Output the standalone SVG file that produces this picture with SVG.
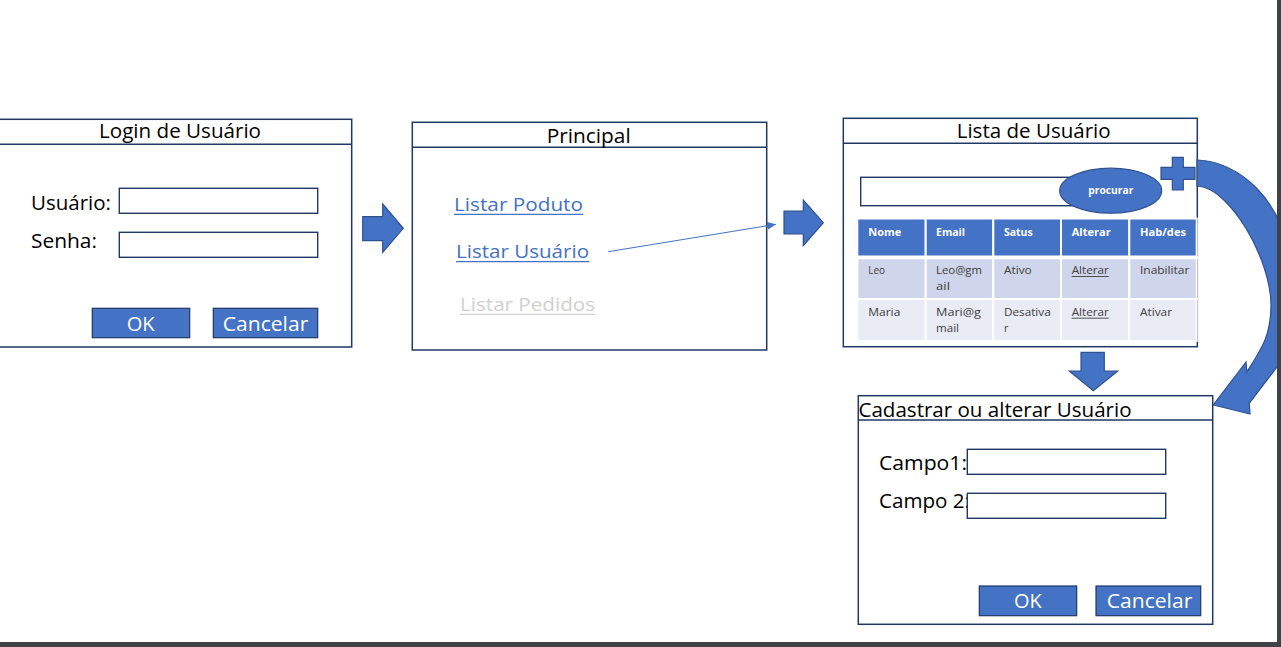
<svg xmlns="http://www.w3.org/2000/svg" width="1281" height="647" viewBox="0 0 1281 647">
<defs>
<style>
.box{fill:#ffffff;stroke:#1f3864;stroke-width:1.5}
.hdr{stroke:#1f3864;stroke-width:1.5}
.inp{fill:#ffffff;stroke:#1f3864;stroke-width:1.4}
.btn{fill:#4472c4;stroke:#1f3864;stroke-width:1.2}
.blk{fill:#4472c4;stroke:#2f528f;stroke-width:1.2;stroke-linejoin:miter}
.t{font-family:"Open Sans","Liberation Sans",sans-serif;fill:#000000;font-size:20px}
.bt{font-family:"Open Sans","Liberation Sans",sans-serif;fill:#ffffff;font-size:20px}
.lnk{font-family:"Open Sans","Liberation Sans",sans-serif;fill:#4472c4;font-size:19px}
.dis{font-family:"Open Sans","Liberation Sans",sans-serif;fill:#d0d0d0;font-size:19px}
.th{font-family:"Open Sans","Liberation Sans",sans-serif;fill:#ffffff;font-size:11px;font-weight:bold}
.td{font-family:"Open Sans","Liberation Sans",sans-serif;fill:#404040;font-size:10.5px}
.ch{fill:#4472c4;stroke:#ffffff;stroke-width:2}
.c1{fill:#cfd5ea;stroke:#ffffff;stroke-width:2}
.c2{fill:#e9ebf5;stroke:#ffffff;stroke-width:2}
</style>
<marker id="ah" markerWidth="10" markerHeight="8" refX="9" refY="4" orient="auto" markerUnits="userSpaceOnUse">
<path d="M0,0 L9,4 L0,8 Z" fill="#4472c4"/>
</marker>
</defs>
<rect x="0" y="0" width="1281" height="647" fill="#ffffff"/>

<g id="login">
<rect class="box" x="-2" y="119.3" width="353.7" height="227.7"/>
<line class="hdr" x1="-2" y1="144.3" x2="351.7" y2="144.3"/>
<text class="t" x="99" y="138" textLength="162" lengthAdjust="spacingAndGlyphs">Login de Usuário</text>
<text class="t" x="31" y="210" textLength="80" lengthAdjust="spacingAndGlyphs">Usuário:</text>
<rect class="inp" x="119.3" y="188.3" width="198.4" height="25"/>
<text class="t" x="31" y="248" textLength="66" lengthAdjust="spacingAndGlyphs">Senha:</text>
<rect class="inp" x="119.3" y="232.3" width="198.4" height="25"/>
<rect class="btn" x="92.3" y="308.3" width="97.4" height="29.4"/>
<text class="bt" x="126.7" y="330.7" textLength="28" lengthAdjust="spacingAndGlyphs">OK</text>
<rect class="btn" x="213.3" y="308.3" width="104.4" height="29.4"/>
<text class="bt" x="222.7" y="330.7" textLength="85.6" lengthAdjust="spacingAndGlyphs">Cancelar</text>
</g>

<g id="principal">
<rect class="box" x="412.3" y="122.3" width="354.4" height="227.7"/>
<line class="hdr" x1="412.3" y1="147.3" x2="766.7" y2="147.3"/>
<text class="t" x="546.7" y="143.3" textLength="84" lengthAdjust="spacingAndGlyphs">Principal</text>
<text class="lnk" x="454" y="211" textLength="129" lengthAdjust="spacingAndGlyphs">Listar Poduto</text>
<line x1="454" y1="214.3" x2="583.3" y2="214.3" stroke="#4472c4" stroke-width="1.3"/>
<text class="lnk" x="456" y="258.3" textLength="133" lengthAdjust="spacingAndGlyphs">Listar Usuário</text>
<line x1="456" y1="261.7" x2="589.3" y2="261.7" stroke="#4472c4" stroke-width="1.3"/>
<text class="dis" x="460" y="311" textLength="135" lengthAdjust="spacingAndGlyphs">Listar Pedidos</text>
<line x1="460" y1="314.3" x2="595" y2="314.3" stroke="#d0d0d0" stroke-width="1.3"/>
</g>

<g id="lista">
<rect class="box" x="843.3" y="118.3" width="354" height="228.4"/>
<line class="hdr" x1="843.3" y1="143.3" x2="1197.3" y2="143.3"/>
<text class="t" x="956.7" y="138.3" textLength="154" lengthAdjust="spacingAndGlyphs">Lista de Usuário</text>
<rect class="inp" x="860.7" y="177.3" width="250" height="28.4"/>
<ellipse class="blk" cx="1110.7" cy="190.7" rx="51" ry="22.5"/>
<text class="th" x="1088.3" y="194" font-size="10" textLength="45" lengthAdjust="spacingAndGlyphs">procurar</text>
<path class="blk" d="M1172.3,157.3 H1183.3 V167.3 H1195 V179.3 H1183.3 V190 H1172.3 V179.3 H1161 V167.3 H1172.3 Z"/>
<g id="tabela">
<rect class="ch" x="857.3" y="218.5" width="68.4" height="38"/>
<rect class="ch" x="925.7" y="218.5" width="67.6" height="38"/>
<rect class="ch" x="993.3" y="218.5" width="67.7" height="38"/>
<rect class="ch" x="1061" y="218.5" width="68.3" height="38"/>
<rect class="ch" x="1129.3" y="218.5" width="67.4" height="38"/>
<rect class="c1" x="857.3" y="258.3" width="68.4" height="40.8"/>
<rect class="c1" x="925.7" y="258.3" width="67.6" height="40.8"/>
<rect class="c1" x="993.3" y="258.3" width="67.7" height="40.8"/>
<rect class="c1" x="1061" y="258.3" width="68.3" height="40.8"/>
<rect class="c1" x="1129.3" y="258.3" width="67.4" height="40.8"/>
<rect class="c2" x="857.3" y="299.1" width="68.4" height="41.9"/>
<rect class="c2" x="925.7" y="299.1" width="67.6" height="41.9"/>
<rect class="c2" x="993.3" y="299.1" width="67.7" height="41.9"/>
<rect class="c2" x="1061" y="299.1" width="68.3" height="41.9"/>
<rect class="c2" x="1129.3" y="299.1" width="67.4" height="41.9"/>
<line x1="856" y1="257.5" x2="1198" y2="257.5" stroke="#ffffff" stroke-width="2.5"/>
<text class="th" x="868.3" y="236" textLength="33" lengthAdjust="spacingAndGlyphs">Nome</text>
<text class="th" x="936" y="236" textLength="29" lengthAdjust="spacingAndGlyphs">Email</text>
<text class="th" x="1004" y="236" textLength="28.7" lengthAdjust="spacingAndGlyphs">Satus</text>
<text class="th" x="1071.7" y="236" textLength="39" lengthAdjust="spacingAndGlyphs">Alterar</text>
<text class="th" x="1140" y="236" textLength="46" lengthAdjust="spacingAndGlyphs">Hab/des</text>
<text class="td" x="868.3" y="274.3" textLength="16.7" lengthAdjust="spacingAndGlyphs">Leo</text>
<text class="td" x="936" y="274.3" textLength="46" lengthAdjust="spacingAndGlyphs">Leo@gm</text>
<text class="td" x="936" y="290" textLength="14" lengthAdjust="spacingAndGlyphs">ail</text>
<text class="td" x="1004" y="274.3" textLength="27.7" lengthAdjust="spacingAndGlyphs">Ativo</text>
<text class="td" x="1071.7" y="274.3" textLength="37" lengthAdjust="spacingAndGlyphs">Alterar</text>
<line x1="1071.7" y1="276.5" x2="1108.7" y2="276.5" stroke="#404040" stroke-width="0.9"/>
<text class="td" x="1140" y="274.3" textLength="49.3" lengthAdjust="spacingAndGlyphs">Inabilitar</text>
<text class="td" x="868.3" y="316" textLength="32" lengthAdjust="spacingAndGlyphs">Maria</text>
<text class="td" x="936" y="316" textLength="45" lengthAdjust="spacingAndGlyphs">Mari@g</text>
<text class="td" x="936" y="331.7" textLength="23" lengthAdjust="spacingAndGlyphs">mail</text>
<text class="td" x="1004" y="316" textLength="46.7" lengthAdjust="spacingAndGlyphs">Desativa</text>
<text class="td" x="1004" y="331.7">r</text>
<text class="td" x="1071.7" y="316" textLength="37" lengthAdjust="spacingAndGlyphs">Alterar</text>
<line x1="1071.7" y1="318.2" x2="1108.7" y2="318.2" stroke="#404040" stroke-width="0.9"/>
<text class="td" x="1140" y="316" textLength="32" lengthAdjust="spacingAndGlyphs">Ativar</text>
</g>
</g>

<g id="cadastrar">
<rect class="box" x="858.3" y="395.7" width="354.4" height="228.6"/>
<line class="hdr" x1="858.3" y1="420" x2="1212.7" y2="420"/>
<text class="t" x="858.5" y="416.7" textLength="273" lengthAdjust="spacingAndGlyphs">Cadastrar ou alterar Usuário</text>
<text class="t" x="879" y="470" textLength="88" lengthAdjust="spacingAndGlyphs">Campo1:</text>
<text class="t" x="879" y="507.7" textLength="91" lengthAdjust="spacingAndGlyphs">Campo 2:</text>
<rect class="inp" x="967.3" y="449.3" width="198.4" height="25"/>
<rect class="inp" x="967.3" y="493.3" width="198.4" height="25"/>
<rect class="btn" x="979.3" y="586" width="97.4" height="29.7"/>
<text class="bt" x="1014" y="608.3" textLength="27.7" lengthAdjust="spacingAndGlyphs">OK</text>
<rect class="btn" x="1096" y="586" width="104.7" height="29.7"/>
<text class="bt" x="1106.7" y="608.3" textLength="85.6" lengthAdjust="spacingAndGlyphs">Cancelar</text>
</g>

<g id="conectores">
<path class="blk" d="M362.7,216.7 H382.7 V204 L403.3,228.3 L382.7,252.3 V240.7 H362.7 Z"/>
<path class="blk" d="M784,211 H803.3 V200 L823.3,222.7 L803.3,245.7 V234 H784 Z"/>
<path class="blk" d="M1081,352.3 H1104.3 V371 H1117.7 L1093.3,390.7 L1069.3,371 H1081 Z"/>
<line x1="608.3" y1="251.7" x2="776" y2="224.3" stroke="#4472c4" stroke-width="1" marker-end="url(#ah)"/>
<path class="blk" d="M1197,160 C1240,162 1282,200 1290,260 C1296,310 1292,340 1277,367 L1249.2,403.3 L1250,414 L1213.3,405 L1246,362 L1246.8,372 C1262,348 1271,335 1271,305 C1271,260 1230,187 1197,186 Z"/>
</g>

<rect x="1277" y="0" width="4" height="647" fill="#3f4346"/>
<rect x="0" y="642" width="1281" height="5" fill="#3f4346"/>
</svg>
